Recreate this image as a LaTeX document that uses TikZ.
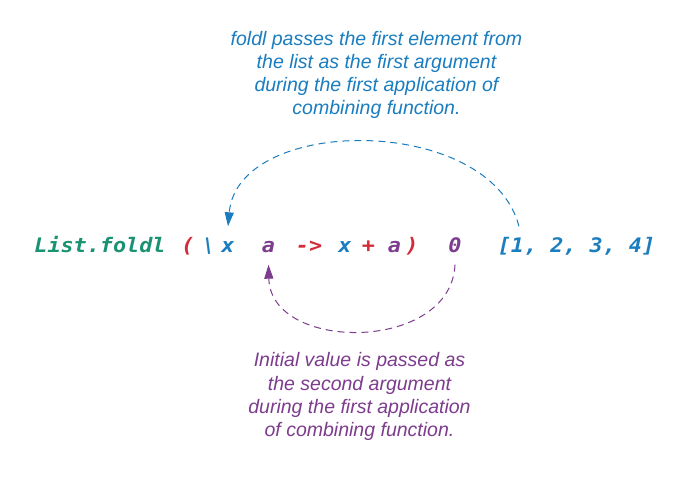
\documentclass[tikz,border=0pt]{standalone}
\usepackage{fontspec}
\setmainfont{Liberation Sans}
\newfontfamily\codefont{DejaVu Sans Mono}[FakeStretch=1.09]
\usetikzlibrary{arrows.meta}
\definecolor{cgreen}{HTML}{1B9272}
\definecolor{cred}{HTML}{D22D3B}
\definecolor{cblue}{HTML}{1A7DC0}
\definecolor{cpurple}{HTML}{7D3C8D}
\tikzset{
  codetok/.style={font=\codefont\bfseries\itshape\fontsize{20}{22}\selectfont,
    inner sep=0pt, inner ysep=11pt, text height=15pt, text depth=1pt, anchor=base},
  notetext/.style={font=\itshape\fontsize{19.5}{23.3}\selectfont, align=center,
    inner sep=0pt, anchor=north},
  dasharc/.style={line width=1pt, dash pattern=on 7pt off 5pt,
    -{Triangle[length=14pt,width=9pt]}}
}
\begin{document}
\begin{tikzpicture}[x=1pt,y=-1pt]
\fill[white] (0,0) rectangle (695,476);
\useasboundingbox (0,0) rectangle (695,476);
% code line
\node[codetok, text=cgreen] (fn) at (100,252.5) {List.foldl};
\node[codetok, text=cred] (lp) at (188,252.5) {(};
\node[codetok, text=cblue] (bs) at (209,252.5) {\textbackslash};
\node[codetok, text=cblue] (xv) at (228,252.5) {x};
\node[codetok, text=cpurple] (av) at (268.5,252.5) {a};
\node[codetok, text=cred] (arr) at (309,252.5) {->};
\node[codetok, text=cblue] (xv2) at (345,252.5) {x};
\node[codetok, text=cred] (plus) at (368.5,252.5) {+};
\node[codetok, text=cpurple] (av2) at (394.5,252.5) {a};
\node[codetok, text=cred] (rp) at (412,252.5) {)};
\node[codetok, text=cpurple] (zero) at (455,252.5) {0};
\node[codetok, text=cblue] (lst) at (576.5,252.5) {[1, 2, 3, 4]};
% notes
\node[notetext, text=cblue] (topnote) at (376.5,30.7)
  {foldl passes the first element from\\the list as the first argument\\during the first application of\\combining function.};
\node[notetext, text=cpurple] (botnote) at (359.5,352.4)
  {Initial value is passed as\\the second argument\\during the first application\\of combining function.};
% arcs
\coordinate (topstart) at ([xshift=21.4pt]lst.north west);
\draw[dasharc, cblue] (topstart) .. controls +(-29,-112) and +(10,-112) .. (xv.north);
\draw[dasharc, cpurple] (zero.south) .. controls +(-4,88) and +(2,88) .. (av.south);
\end{tikzpicture}
\end{document}
